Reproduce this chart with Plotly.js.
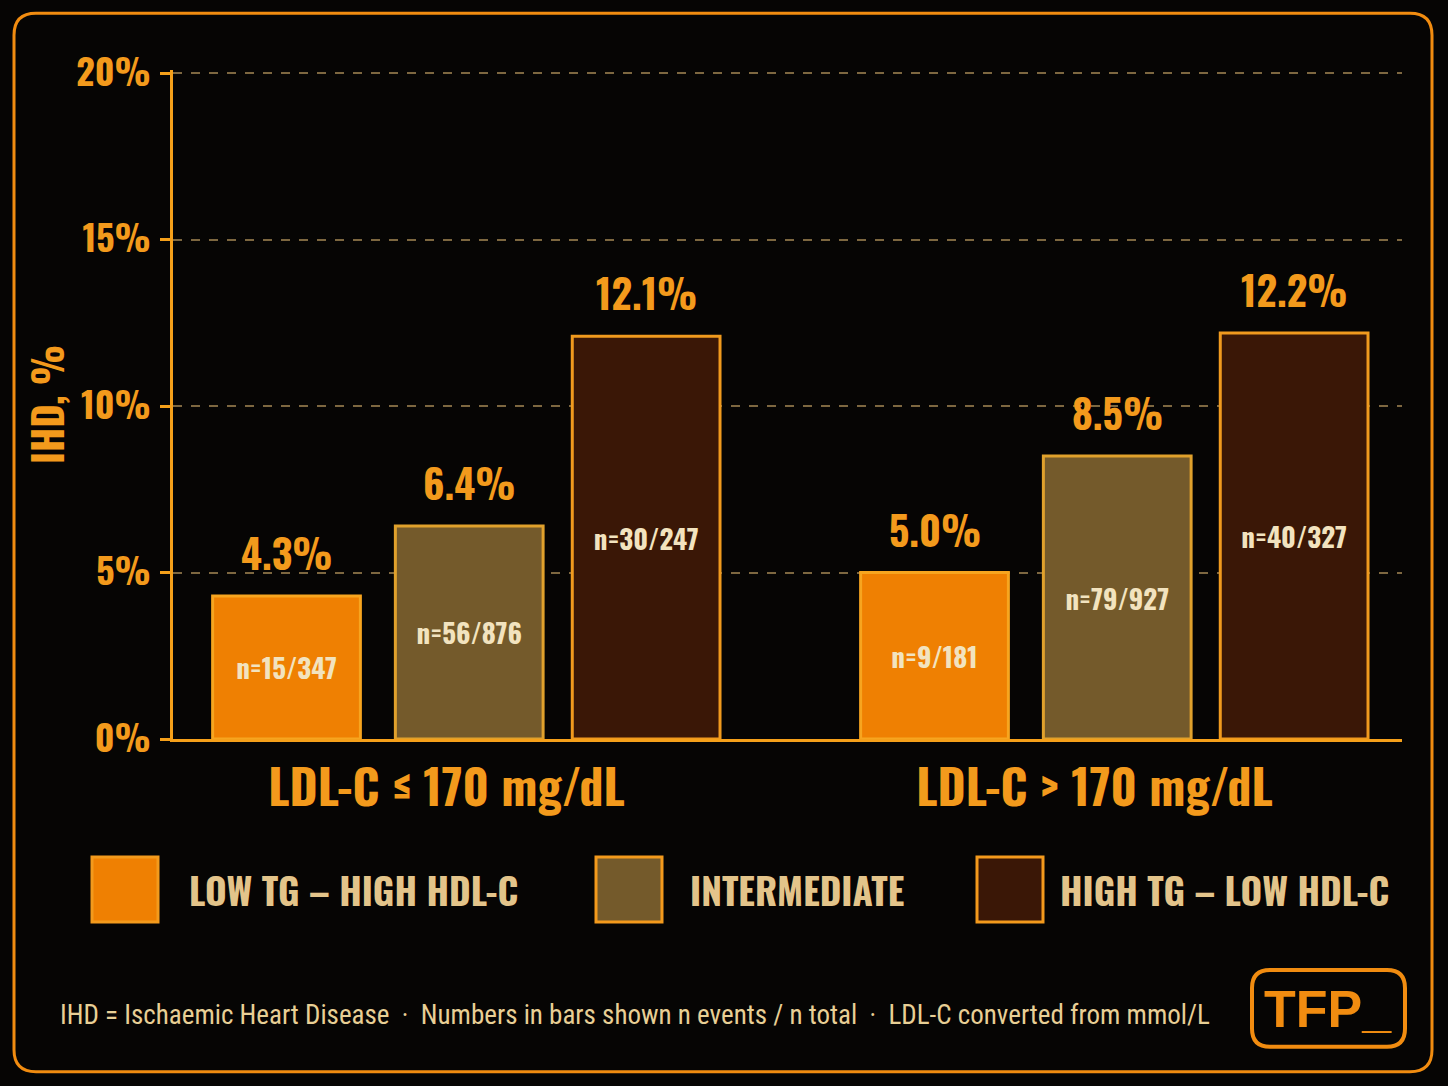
<!DOCTYPE html>
<html>
<head>
<meta charset="utf-8">
<script src="https://cdn.plot.ly/plotly-3.0.1.min.js"></script>
<style>
  html, body { margin: 0; padding: 0; background: #060504; }
  #chart { width: 1448px; height: 1086px; }
</style>
</head>
<body>
<div id="chart"></div>
<script>
// values
const groups = ['LDL-C ≤ 170 mg/dL', 'LDL-C > 170 mg/dL'];
const seriesNames = ['LOW TG – HIGH HDL-C', 'INTERMEDIATE', 'HIGH TG – LOW HDL-C'];
const lowTgHighHdl = [4.3, 5.0];
const intermediate = [6.4, 8.5];
const highTgLowHdl = [12.1, 12.2];
const lowTgHighHdlN = ['n=15/347', 'n=9/181'];
const intermediateN = ['n=56/876', 'n=79/927'];
const highTgLowHdlN = ['n=30/247', 'n=40/327'];
const yTicks = [0, 5, 10, 15, 20];
const yTickText = ['0%', '5%', '10%', '15%', '20%'];
const footnote = 'IHD = Ischaemic Heart Disease  ·  Numbers in bars shown n events / n total  ·  LDL-C converted from mmol/L';

const COND = 'Oswald, "Roboto Condensed", sans-serif';
const NARROW = '"Roboto Condensed", sans-serif';
const ORANGE = '#f39a1c';
const CREAM = '#f2e3bf';
const TAN = '#e3c48a';
const fills = ['#ef8002', '#745a2b', '#3a1706'];
const borders = ['#f7a51f', '#e0a12c', '#f09a1e'];
const values = [lowTgHighHdl, intermediate, highTgLowHdl];
const counts = [lowTgHighHdlN, intermediateN, highTgLowHdlN];

// bars placed on a numeric axis so labels can sit on them
const offsets = [-0.277, 0.005, 0.278];
const barWidth = 0.228;

// a touch of headroom so the 20% gridline is drawn
const YMAX = 20.1;
const L = 173, R = 1402, B = 739;
const T = B - 666 * YMAX / 20;
const X = px => (px - L) / (R - L);
const Y = py => (B - py) / (B - T);

function roundRect(x0, y0, x1, y1, r) {
    return `M${X(x0 + r)},${Y(y0)} L${X(x1 - r)},${Y(y0)} Q${X(x1)},${Y(y0)} ${X(x1)},${Y(y0 + r)} ` +
        `L${X(x1)},${Y(y1 - r)} Q${X(x1)},${Y(y1)} ${X(x1 - r)},${Y(y1)} ` +
        `L${X(x0 + r)},${Y(y1)} Q${X(x0)},${Y(y1)} ${X(x0)},${Y(y1 - r)} ` +
        `L${X(x0)},${Y(y0 + r)} Q${X(x0)},${Y(y0)} ${X(x0 + r)},${Y(y0)} Z`;
}

const traces = seriesNames.map((name, s) => ({
    type: 'bar',
    name,
    x: groups.map((_, g) => g + offsets[s]),
    y: values[s],
    width: barWidth,
    text: counts[s],
    textposition: 'inside',
    insidetextanchor: 'middle',
    textangle: 0,
    constraintext: 'none',
    textfont: { family: COND, size: 27, color: CREAM, weight: 'bold' },
    marker: { color: fills[s], line: { color: borders[s], width: 3 } },
    hoverinfo: 'skip',
}));

const annotations = [];
values.forEach((vals, s) => {
    vals.forEach((v, g) => {
        annotations.push({
            x: g + offsets[s], y: v, xref: 'x', yref: 'y',
            text: v.toFixed(1) + '%', showarrow: false,
            yanchor: 'bottom', yshift: 12,
            font: { family: COND, size: 40, color: ORANGE, weight: 'bold' },
        });
    });
});

// legend drawn by hand for the large swatches
const legendSwatchX = [92, 596, 977];
const legendTextX = [187, 688, 1058];
const shapes = [];
seriesNames.forEach((name, s) => {
    shapes.push({
        type: 'rect', xref: 'paper', yref: 'paper',
        x0: X(legendSwatchX[s]), x1: X(legendSwatchX[s] + 66),
        y0: Y(857), y1: Y(922),
        fillcolor: fills[s], line: { color: ORANGE, width: 3 },
    });
    annotations.push({
        xref: 'paper', yref: 'paper', x: X(legendTextX[s]), y: Y(890),
        xanchor: 'left', yanchor: 'middle', showarrow: false, text: name,
        font: { family: COND, size: 37, color: TAN, weight: 'bold' },
    });
});

// outer frame and logo
shapes.push({
    type: 'path', xref: 'paper', yref: 'paper',
    path: roundRect(14, 13, 1432, 1072, 22),
    line: { color: '#f18c10', width: 3 },
});
shapes.push({
    type: 'path', xref: 'paper', yref: 'paper',
    path: roundRect(1252, 970, 1405, 1047, 18),
    line: { color: '#f18c10', width: 4 },
});
annotations.push({
    xref: 'paper', yref: 'paper', x: X(1328), y: Y(1009),
    xanchor: 'center', yanchor: 'middle', showarrow: false, text: 'TFP_',
    font: { family: '"Liberation Sans", Arial, sans-serif', size: 52, color: '#f18c10', weight: 'bold' },
});
annotations.push({
    xref: 'paper', yref: 'paper', x: X(58), y: Y(1015),
    xanchor: 'left', yanchor: 'middle', showarrow: false, text: footnote,
    font: { family: NARROW, size: 27, color: '#e8cf95' },
});

const layout = {
    width: 1448, height: 1086,
    margin: { l: L, r: 1448 - R, t: T, b: 1086 - B },
    paper_bgcolor: '#060504',
    plot_bgcolor: '#060504',
    showlegend: false,
    barmode: 'overlay',
    xaxis: {
        range: [(L - 466) / 648, (R - 466) / 648],
        tickvals: groups.map((_, g) => g - 0.03),
        ticktext: groups,
        tickfont: { family: COND, size: 48, color: ORANGE, weight: 'bold' },
        ticks: 'outside', ticklen: 6, tickcolor: 'rgba(0,0,0,0)',
        showline: true, linecolor: '#f5a01a', linewidth: 3,
        showgrid: false, zeroline: false, fixedrange: true,
    },
    yaxis: {
        range: [0, YMAX],
        tickvals: yTicks,
        ticktext: yTickText,
        tickfont: { family: COND, size: 36, color: ORANGE, weight: 'bold' },
        ticks: 'outside', ticklen: 10, tickwidth: 3, tickcolor: '#f5a01a',
        ticklabelstandoff: 2,
        showline: true, linecolor: '#f5a01a', linewidth: 3,
        showgrid: true, gridcolor: '#7d6740', gridwidth: 2, griddash: 'dash',
        zeroline: false, fixedrange: true,
        title: {
            text: 'IHD, %', standoff: 0,
            font: { family: COND, size: 40, color: ORANGE, weight: 'bold' },
        },
    },
    shapes,
    annotations,
};

Plotly.newPlot('chart', traces, layout, { displayModeBar: false, staticPlot: true });
</script>
</body>
</html>
